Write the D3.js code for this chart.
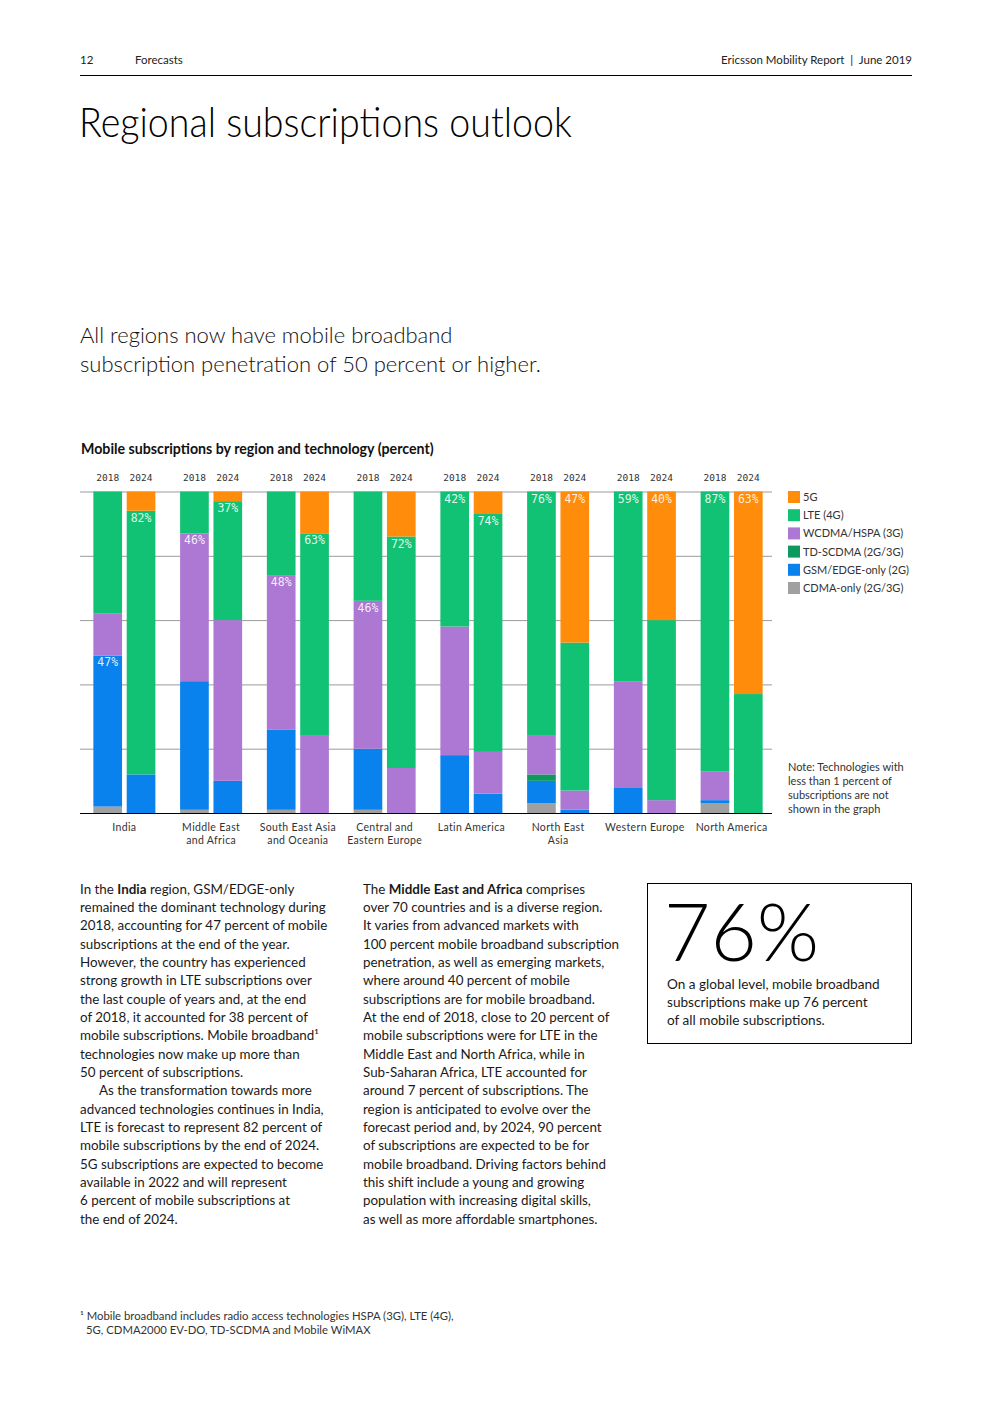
<!DOCTYPE html>
<html>
<head>
<meta charset="utf-8">
<script src="https://cdn.jsdelivr.net/npm/d3@7"></script>
<style>
  body { margin: 0; background: #fff; }
  svg { display: block; }
</style>
</head>
<body>
<div id="page"></div>
<script>
// chart data (percent of subscriptions)
var regions = ["India", "Middle East and Africa", "South East Asia and Oceania", "Central and Eastern Europe",
               "Latin America", "North East Asia", "Western Europe", "North America"];
var regionLines = [["India"], ["Middle East", "and Africa"], ["South East Asia", "and Oceania"], ["Central and", "Eastern Europe"],
                   ["Latin America"], ["North East", "Asia"], ["Western Europe"], ["North America"]];
var years = ["2018", "2024"];
var techs = ["CDMA-only (2G/3G)", "GSM/EDGE-only (2G)", "TD-SCDMA (2G/3G)", "WCDMA/HSPA (3G)", "LTE (4G)", "5G"];
var techColors = ["#a0a0a0", "#0a82ee", "#0e9a5e", "#ad78d3", "#12c274", "#ff8c0a"];

// one value per bar: India 2018, India 2024, Middle East 2018, ...
var cdma    = [2, 0, 1, 0, 1, 0, 1, 0, 0, 0, 3, 0, 0, 0, 3, 0];
var gsm     = [47, 12, 40, 10, 25, 0, 19, 0, 18, 6, 7, 1, 8, 0, 1, 0];
var tdscdma = [0, 0, 0, 0, 0, 0, 0, 0, 0, 0, 2, 0, 0, 0, 0, 0];
var wcdma   = [13, 0, 46, 50, 48, 24, 46, 14, 40, 13, 12, 6, 33, 4, 9, 0];
var lte     = [38, 82, 13, 37, 26, 63, 34, 72, 42, 74, 76, 46, 59, 56, 87, 37];
var fiveG   = [0, 6, 0, 3, 0, 13, 0, 14, 0, 7, 0, 47, 0, 40, 0, 63];
// which segment carries the printed percentage on each bar
var labelTech = ["GSM/EDGE-only (2G)", "LTE (4G)", "WCDMA/HSPA (3G)", "LTE (4G)", "WCDMA/HSPA (3G)", "LTE (4G)",
                 "WCDMA/HSPA (3G)", "LTE (4G)", "LTE (4G)", "LTE (4G)", "LTE (4G)", "5G", "LTE (4G)", "5G", "LTE (4G)", "5G"];
var yTicks = [0, 20, 40, 60, 80, 100];

var W = 992, H = 1403;
var svg = d3.select("#page").append("svg")
    .attr("width", W)
    .attr("height", H);
svg.append("rect").attr("width", W).attr("height", H).attr("fill", "#fff");

var sans = "Lato, 'Noto Sans', sans-serif";
var mono = "'DejaVu Sans Mono', 'Liberation Mono', monospace";

// ---- page header
svg.append("text").attr("x", 80).attr("y", 64).attr("font-family", sans).attr("font-size", 11.5)
    .attr("fill", "#222").text("12");
svg.append("text").attr("x", 135).attr("y", 64).attr("font-family", sans).attr("font-size", 11.5)
    .attr("fill", "#222").text("Forecasts");
svg.append("text").attr("x", 912).attr("y", 64).attr("text-anchor", "end").attr("font-family", sans)
    .attr("font-size", 11.5).attr("fill", "#222").attr("xml:space", "preserve")
    .text("Ericsson Mobility Report  |  June 2019");
svg.append("line").attr("x1", 80).attr("x2", 912).attr("y1", 75.5).attr("y2", 75.5)
    .attr("stroke", "#000").attr("stroke-width", 1);

svg.append("text").attr("x", 79).attr("y", 137).attr("font-family", sans).attr("font-weight", 300)
    .attr("font-size", 41).attr("fill", "#000")
    .attr("textLength", 493).attr("lengthAdjust", "spacingAndGlyphs")
    .text("Regional subscriptions outlook");

svg.append("text").attr("x", 80).attr("y", 343).attr("font-family", sans).attr("font-weight", 300)
    .attr("font-size", 22).attr("fill", "#111")
    .text("All regions now have mobile broadband");
svg.append("text").attr("x", 80).attr("y", 372).attr("font-family", sans).attr("font-weight", 300)
    .attr("font-size", 22).attr("fill", "#111")
    .text("subscription penetration of 50 percent or higher.");

// ---- chart
svg.append("text").attr("x", 81).attr("y", 454).attr("font-family", sans).attr("font-weight", 700)
    .attr("font-size", 14.2).attr("fill", "#111")
    .text("Mobile subscriptions by region and technology (percent)");

var plot = {left: 80, right: 772, top: 491.5, bottom: 813};

var x0 = d3.scaleBand()
    .domain(regions)
    .range([81, 775])
    .paddingInner(0.285)
    .paddingOuter(0.1425);

var x1 = d3.scaleBand()
    .domain(years)
    .range([0, x0.bandwidth()])
    .paddingInner(0.14);

var y = d3.scaleLinear()
    .domain([0, 100])
    .range([plot.bottom, plot.top]);

var color = d3.scaleOrdinal().domain(techs).range(techColors);

var series = [cdma, gsm, tdscdma, wcdma, lte, fiveG];
var rows = [];
regions.forEach(function(r, ri) {
    years.forEach(function(yr, yi) {
        var i = ri * years.length + yi;
        var row = {region: r, year: yr, idx: i, label: labelTech[i]};
        techs.forEach(function(t, ti) { row[t] = series[ti][i]; });
        rows.push(row);
    });
});

var stacked = d3.stack().keys(techs)(rows);

// gridlines
var grid = svg.append("g")
    .attr("transform", "translate(" + plot.left + ",0)")
    .call(d3.axisLeft(y).tickValues(yTicks).tickSize(-(plot.right - plot.left)).tickFormat(""));
grid.select(".domain").remove();
grid.selectAll("line").attr("stroke", "#9b9b9b").attr("stroke-width", 1);

var barX = function(d) { return x0(d.data.region) + x1(d.data.year); };

svg.append("g").selectAll("g")
    .data(stacked)
    .enter().append("g")
        .attr("fill", function(d) { return color(d.key); })
    .selectAll("rect")
    .data(function(d) { return d.filter(function(s) { return s[1] - s[0] > 0; }); })
    .enter().append("rect")
        .attr("x", barX)
        .attr("y", function(d) { return y(d[1]); })
        .attr("width", x1.bandwidth())
        .attr("height", function(d) { return y(d[0]) - y(d[1]); });

// percentage labels at the top of the dominant segment
stacked.forEach(function(s) {
    svg.append("g").selectAll("text")
        .data(s.filter(function(d) { return d.data.label === s.key; }))
        .enter().append("text")
            .attr("x", function(d) { return barX(d) + x1.bandwidth() / 2; })
            .attr("y", function(d) { return y(d[1]) + 11; })
            .attr("text-anchor", "middle")
            .attr("font-family", mono)
            .attr("font-size", 11.5)
            .attr("fill", "#fff")
            .attr("fill-opacity", 0.88)
            .text(function(d) { return d[1] - d[0] + "%"; });
});

// baseline
svg.append("line").attr("x1", plot.left).attr("x2", plot.right)
    .attr("y1", plot.bottom + 0.5).attr("y2", plot.bottom + 0.5)
    .attr("stroke", "#000").attr("stroke-width", 1.2);

// year labels above bars
svg.append("g").selectAll("text")
    .data(rows)
    .enter().append("text")
        .attr("x", function(d) { return x0(d.region) + x1(d.year) + x1.bandwidth() / 2; })
        .attr("y", 481)
        .attr("text-anchor", "middle")
        .attr("font-family", mono)
        .attr("font-size", 9.5)
        .attr("fill", "#333")
        .text(function(d) { return d.year; });

// region axis
var xAxis = svg.append("g")
    .attr("transform", "translate(0," + plot.bottom + ")")
    .call(d3.axisBottom(x0).tickSize(0).tickFormat(""));
xAxis.select(".domain").remove();
xAxis.selectAll(".tick").append("text")
    .attr("font-family", sans)
    .attr("font-size", 10.5)
    .attr("fill", "#333")
    .attr("text-anchor", "middle")
    .attr("letter-spacing", 0.35)
    .selectAll("tspan")
    .data(function(d) { return regionLines[regions.indexOf(d)]; })
    .enter().append("tspan")
        .attr("x", 0)
        .attr("y", function(d, i) { return 18 + i * 13; })
        .text(function(d) { return d; });

// legend (top of stack first)
var legendTechs = techs.slice().reverse();
var legend = svg.append("g").selectAll("g")
    .data(legendTechs)
    .enter().append("g")
        .attr("transform", function(d, i) { return "translate(788," + (491 + i * 18.2) + ")"; });
legend.append("rect").attr("width", 12).attr("height", 12).attr("fill", function(d) { return color(d); });
legend.append("text").attr("x", 15).attr("y", 10).attr("font-family", sans).attr("font-size", 11)
    .attr("fill", "#333").text(function(d) { return d; });

var note = ["Note: Technologies with", "less than 1 percent of", "subscriptions are not", "shown in the graph"];
svg.append("g").selectAll("text")
    .data(note)
    .enter().append("text")
        .attr("x", 788)
        .attr("y", function(d, i) { return 771 + i * 14; })
        .attr("font-family", sans)
        .attr("font-size", 11)
        .attr("fill", "#333")
        .text(function(d) { return d; });

// ---- body text
function para(lines, x, y0, lh, size) {
    var g = svg.append("g");
    lines.forEach(function(line, i) {
        var parts = typeof line === "string" ? [[line, 0]] : line;
        var indent = 0;
        if (parts[0][0].indexOf("\t") === 0) { indent = 19; parts[0][0] = parts[0][0].slice(1); }
        var t = g.append("text")
            .attr("x", x + indent)
            .attr("y", y0 + i * lh)
            .attr("font-family", sans)
            .attr("font-size", size)
            .attr("fill", "#1a1a1a");
        parts.forEach(function(p) {
            t.append("tspan").attr("font-weight", p[1] ? 700 : 400).text(p[0]);
        });
    });
}

para([
    [["In the ", 0], ["India", 1], [" region, GSM/EDGE-only", 0]],
    "remained the dominant technology during",
    "2018, accounting for 47 percent of mobile",
    "subscriptions at the end of the year.",
    "However, the country has experienced",
    "strong growth in LTE subscriptions over",
    "the last couple of years and, at the end",
    "of 2018, it accounted for 38 percent of",
    "mobile subscriptions. Mobile broadband\u00b9",
    "technologies now make up more than",
    "50 percent of subscriptions.",
    "\tAs the transformation towards more",
    "advanced technologies continues in India,",
    "LTE is forecast to represent 82 percent of",
    "mobile subscriptions by the end of 2024.",
    "5G subscriptions are expected to become",
    "available in 2022 and will represent",
    "6 percent of mobile subscriptions at",
    "the end of 2024."
], 80, 893.5, 18.35, 13.4);

para([
    [["The ", 0], ["Middle East and Africa", 1], [" comprises", 0]],
    "over 70 countries and is a diverse region.",
    "It varies from advanced markets with",
    "100 percent mobile broadband subscription",
    "penetration, as well as emerging markets,",
    "where around 40 percent of mobile",
    "subscriptions are for mobile broadband.",
    "At the end of 2018, close to 20 percent of",
    "mobile subscriptions were for LTE in the",
    "Middle East and North Africa, while in",
    "Sub-Saharan Africa, LTE accounted for",
    "around 7 percent of subscriptions. The",
    "region is anticipated to evolve over the",
    "forecast period and, by 2024, 90 percent",
    "of subscriptions are expected to be for",
    "mobile broadband. Driving factors behind",
    "this shift include a young and growing",
    "population with increasing digital skills,",
    "as well as more affordable smartphones."
], 363, 893.5, 18.35, 13.4);

// ---- call-out box
svg.append("rect").attr("x", 647.5).attr("y", 883.5).attr("width", 264).attr("height", 160)
    .attr("fill", "none").attr("stroke", "#000").attr("stroke-width", 1);
svg.append("text").attr("x", 664).attr("y", 961).attr("font-family", sans).attr("font-weight", 300)
    .attr("font-size", 80).attr("fill", "#000").text("76%");
para([
    "On a global level, mobile broadband",
    "subscriptions make up 76 percent",
    "of all mobile subscriptions."
], 667, 989, 18, 13.6);

// ---- footnote
svg.append("text").attr("x", 80).attr("y", 1320).attr("font-family", sans).attr("font-size", 11.3)
    .attr("fill", "#333").text("\u00b9 Mobile broadband includes radio access technologies HSPA (3G), LTE (4G),");
svg.append("text").attr("x", 86).attr("y", 1334).attr("font-family", sans).attr("font-size", 11.3)
    .attr("fill", "#333").text("5G, CDMA2000 EV-DO, TD-SCDMA and Mobile WiMAX");
</script>
</body>
</html>
